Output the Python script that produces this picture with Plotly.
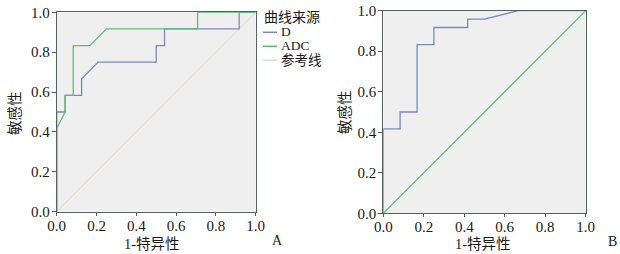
import plotly.graph_objects as go

# ---- data ----
# Panel A
A_D_x = [0, 0, 0.042, 0.042, 0.125, 0.125, 0.208, 0.5, 0.5, 0.542, 0.542, 0.917, 0.917, 1]
A_D_y = [0, 0.5, 0.5, 0.583, 0.583, 0.667, 0.75, 0.75, 0.833, 0.833, 0.917, 0.917, 1, 1]
A_ADC_x = [0, 0, 0.042, 0.042, 0.083, 0.083, 0.167, 0.25, 0.708, 0.708, 1]
A_ADC_y = [0, 0.417, 0.5, 0.583, 0.583, 0.833, 0.833, 0.917, 0.917, 1, 1]
REF_x = [0, 1]
REF_y = [0, 1]
# Panel B
B_x = [0, 0, 0.083, 0.083, 0.167, 0.167, 0.25, 0.25, 0.417, 0.417, 0.5, 0.667, 1]
B_y = [0, 0.417, 0.417, 0.5, 0.5, 0.833, 0.833, 0.917, 0.917, 0.958, 0.958, 1, 1]

tick_vals = [0, 0.2, 0.4, 0.6, 0.8, 1.0]
tick_text = ["0.0", "0.2", "0.4", "0.6", "0.8", "1.0"]
legend_title = "曲线来源"
legend_names = ["D", "ADC", "参考线"]
x_title = "1-特异性"
y_title = "敏感性"

BLUE = "#7B88BF"
GREEN = "#5FBC78"
REFC = "#E3E0BC"
FONT = "Liberation Serif, Noto Sans CJK SC, serif"
TXT = "#1a1a1a"
W, H = 620, 254

fig = go.Figure()
fig.add_trace(go.Scatter(x=REF_x, y=REF_y, mode="lines", line=dict(color=REFC, width=1.2),
                         xaxis="x", yaxis="y", showlegend=False))
fig.add_trace(go.Scatter(x=A_D_x, y=A_D_y, mode="lines", line=dict(color=BLUE, width=1.3),
                         xaxis="x", yaxis="y", showlegend=False))
fig.add_trace(go.Scatter(x=A_ADC_x, y=A_ADC_y, mode="lines", line=dict(color=GREEN, width=1.3),
                         xaxis="x", yaxis="y", showlegend=False))
fig.add_trace(go.Scatter(x=REF_x, y=REF_y, mode="lines", line=dict(color=GREEN, width=1.3),
                         xaxis="x2", yaxis="y2", showlegend=False))
fig.add_trace(go.Scatter(x=B_x, y=B_y, mode="lines", line=dict(color=BLUE, width=1.3),
                         xaxis="x2", yaxis="y2", showlegend=False))

def px_x(p):
    return p / W

def px_y(p):
    return 1 - p / H

axis_common = dict(range=[0, 1], tickvals=tick_vals, ticktext=tick_text,
                   showgrid=False, zeroline=False, showline=True, mirror=True,
                   linecolor="#56605C", linewidth=1, ticks="outside",
                   tickcolor="#56605C", tickfont=dict(family=FONT, size=15, color=TXT),
                   fixedrange=True, automargin=False)
xax = dict(ticklen=3, ticklabelstandoff=-3, **axis_common)
yax = dict(ticklen=4, ticklabelstandoff=-1, **axis_common)

fig.update_layout(
    width=W, height=H, margin=dict(l=0, r=0, t=0, b=0, pad=0),
    paper_bgcolor="white", plot_bgcolor="#EFEFEF",
    showlegend=False,
    xaxis=dict(domain=[px_x(56.7), px_x(255.7)], anchor="y", **xax),
    yaxis=dict(domain=[px_y(211.7), px_y(12.3)], anchor="x", **yax),
    xaxis2=dict(domain=[px_x(383.3), px_x(585.7)], anchor="y2", **xax),
    yaxis2=dict(domain=[px_y(213.3), px_y(10.7)], anchor="x2", **yax),
)

ann = []
def add_text(x, y, text, size=14, xanchor="center", yanchor="middle", angle=0):
    ann.append(dict(x=px_x(x), y=px_y(y), xref="paper", yref="paper", text=text,
                    showarrow=False, xanchor=xanchor, yanchor=yanchor, textangle=angle,
                    font=dict(family=FONT, size=size, color=TXT)))

# axis titles
add_text(152, 243.5, x_title, size=14.5)
add_text(15, 113, y_title, size=14.5, angle=-90)
add_text(483, 243.5, x_title, size=14.5)
add_text(345, 112, y_title, size=14.5, angle=-90)
# panel labels
add_text(277, 240, "A", size=14)
add_text(612, 241, "B", size=14)
# legend
add_text(262, 17.5, legend_title, size=14, xanchor="left")
legend_colors = [BLUE, GREEN, REFC]
legend_ys = [31.5, 45.5, 59.5]
shapes = []
for name, col, yy in zip(legend_names, legend_colors, legend_ys):
    add_text(279, yy, name, size=13.5, xanchor="left")
    shapes.append(dict(type="line", xref="paper", yref="paper",
                       x0=px_x(263), x1=px_x(277), y0=px_y(yy + 0.8), y1=px_y(yy + 0.8),
                       line=dict(color=col, width=1.5)))

fig.update_layout(annotations=ann, shapes=shapes)
fig.write_html("out.html", config={"displayModeBar": False},
               post_script="document.body.style.margin='0';document.body.style.padding='0';")
